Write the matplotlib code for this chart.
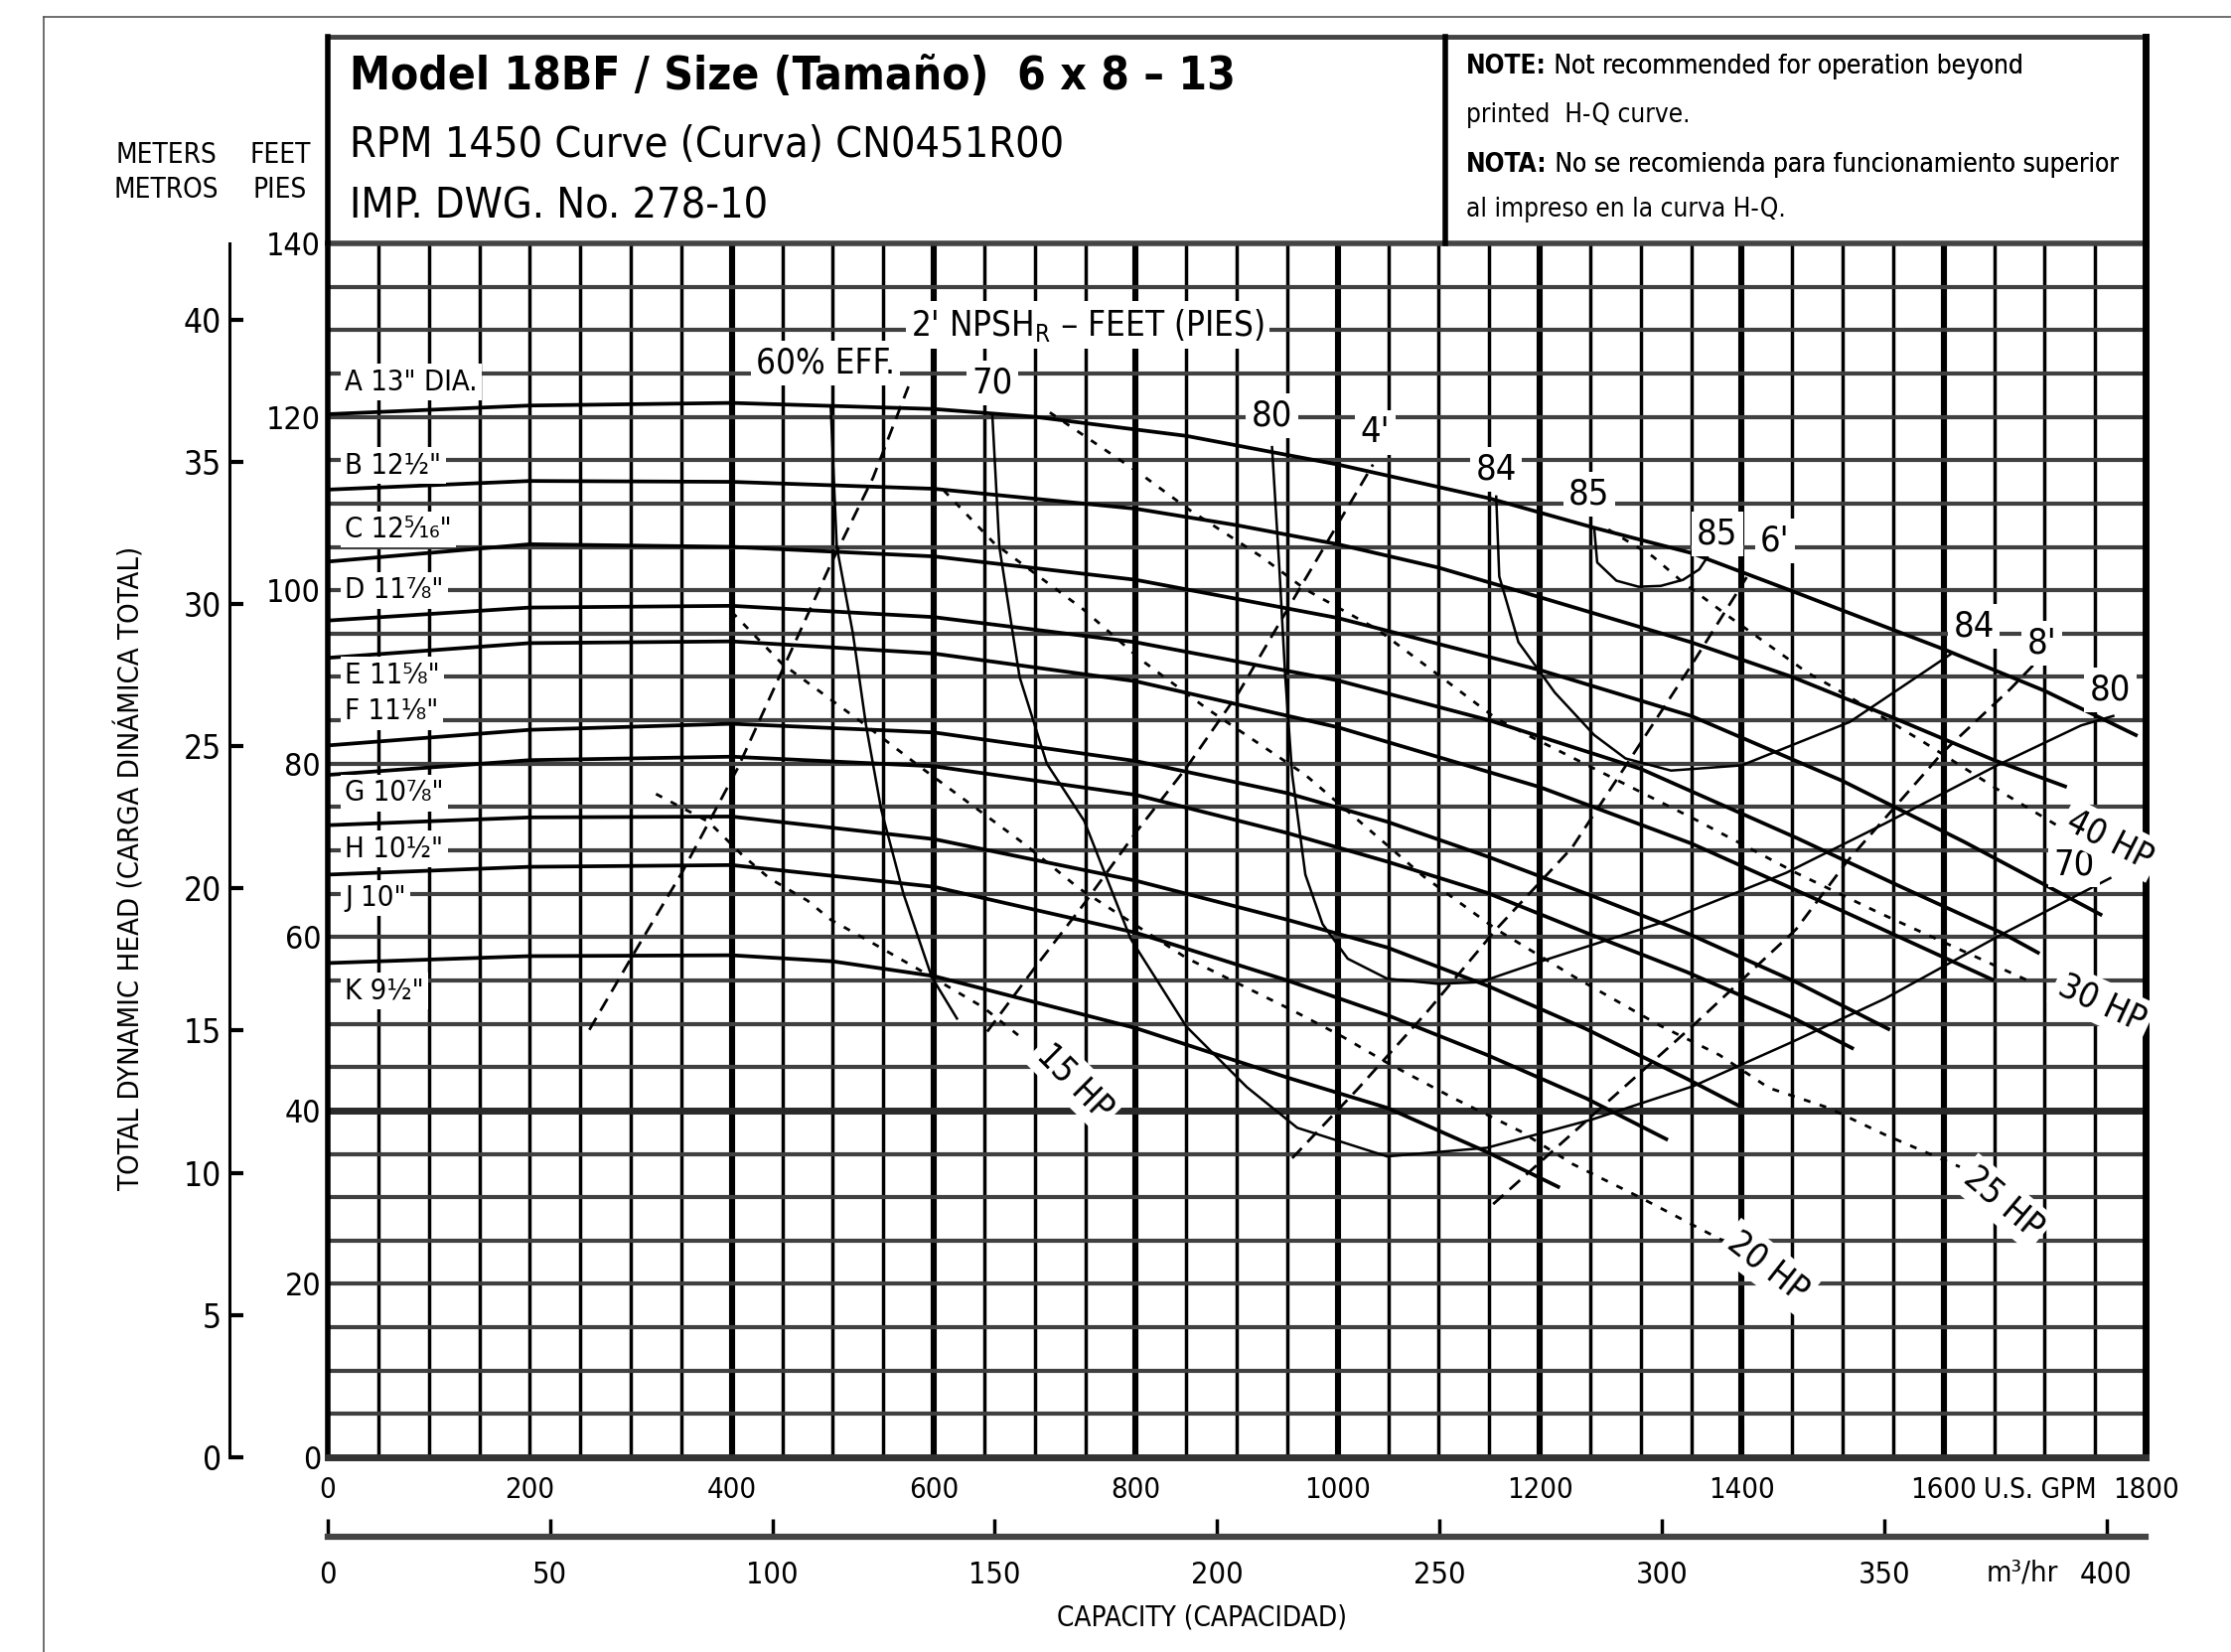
import matplotlib
matplotlib.use('Agg')
import matplotlib.pyplot as plt
from matplotlib.lines import Line2D
from matplotlib.transforms import blended_transform_factory
import numpy as np

plt.rcParams['font.family'] = ['DejaVu Sans']
plt.rcParams['font.stretch'] = 'condensed'
plt.rcParams['lines.scale_dashes'] = False

# ---- head-capacity curves (U.S. GPM, feet) ----
A_Q = [0, 200, 400, 600, 700, 850, 1000, 1150, 1254, 1350, 1450, 1600, 1700, 1792]
A_H = [120.3, 121.3, 121.6, 120.9, 120.0, 117.8, 114.5, 110.6, 107.2, 104.3, 99.9, 93.2, 88.4, 83.2]
B_Q = [0, 200, 400, 600, 800, 900, 1000, 1100, 1200, 1350, 1450, 1550, 1650, 1722]
B_H = [111.6, 112.6, 112.5, 111.7, 109.4, 107.5, 105.3, 102.6, 99.2, 94.0, 90.0, 85.3, 80.4, 77.3]
C_Q = [0, 200, 400, 600, 800, 1000, 1200, 1350, 1500, 1620, 1757]
C_H = [103.3, 105.3, 105.0, 103.9, 101.2, 96.8, 90.8, 85.5, 78.0, 71.0, 62.5]
D_Q = [0, 200, 400, 600, 800, 1000, 1150, 1300, 1455, 1554, 1659, 1695]
D_H = [96.5, 98.0, 98.2, 96.9, 94.0, 89.6, 85.0, 79.4, 71.4, 66.0, 60.4, 58.1]
E_Q = [0, 200, 400, 600, 800, 1000, 1200, 1350, 1500, 1650]
E_H = [92.2, 93.9, 94.1, 92.7, 89.5, 84.2, 77.3, 70.8, 63.0, 55.0]
F_Q = [0, 200, 400, 600, 800, 950, 1049, 1148, 1253, 1345, 1454, 1547]
F_H = [82.1, 83.9, 84.6, 83.6, 80.3, 76.6, 73.3, 69.3, 64.7, 60.5, 54.8, 49.3]
G_Q = [0, 200, 400, 600, 800, 950, 1049, 1148, 1246, 1345, 1454, 1511]
G_H = [78.7, 80.4, 80.8, 79.7, 76.4, 72.0, 68.7, 65.1, 60.5, 56.0, 50.5, 47.1]
H_Q = [0, 200, 400, 600, 800, 950, 1049, 1148, 1246, 1345, 1398]
H_H = [72.9, 73.8, 73.9, 71.3, 66.5, 62.0, 58.8, 54.4, 49.4, 43.7, 40.5]
J_Q = [0, 200, 400, 600, 800, 950, 1049, 1148, 1246, 1327]
J_H = [67.2, 68.1, 68.3, 65.8, 60.5, 55.0, 51.0, 46.4, 41.4, 36.6]
K_Q = [0, 200, 400, 500, 600, 800, 950, 1049, 1148, 1220]
K_H = [57.0, 57.8, 57.9, 57.2, 55.5, 49.5, 43.8, 40.3, 35.2, 31.1]

impeller_labels = ['A 13" DIA.', 'B 12½"', 'C 12⁵⁄₁₆"', 'D 11⅞"', 'E 11⅝"',
                   'F 11⅛"', 'G 10⅞"', 'H 10½"', 'J 10"', 'K 9½"']
impeller_label_ft = [124, 114.4, 107, 100, 90.2, 86, 76.6, 70.2, 64.5, 53.8]

# ---- efficiency contours ----
EFF60_Q = [498, 504, 520, 533, 548, 570, 598, 623]
EFF60_H = [121.2, 105, 95, 84.4, 74.7, 65, 55.4, 50.6]
EFF70_Q = [658, 665, 685, 712, 749, 795, 850, 910, 960, 1049, 1148, 1253, 1352, 1450, 1542, 1659, 1765]
EFF70_H = [120.3, 105, 90, 80, 73.4, 59.8, 49.7, 42.7, 38.0, 34.7, 35.7, 39, 42.8, 47.9, 52.9, 60.4, 66.8]
EFF80_Q = [935, 942, 948, 955, 968, 985, 1010, 1049, 1100, 1141, 1204, 1319, 1444, 1542, 1653, 1736, 1768]
EFF80_H = [116.5, 103.1, 90.2, 78.7, 67.2, 61.5, 57.5, 55.2, 54.6, 54.8, 57.3, 61.6, 67.4, 73.1, 79.8, 84.4, 85.5]
EFF84_Q = [1157, 1160, 1179, 1215, 1254, 1285, 1330, 1400, 1507, 1608]
EFF84_H = [110.8, 101.6, 94, 88.2, 83.3, 80.6, 79.2, 79.8, 84.8, 92.7]
EFF85_Q = [1254, 1257, 1276, 1298, 1320, 1342, 1358, 1366]
EFF85_H = [107.2, 103.2, 101.1, 100.4, 100.5, 101.2, 102.4, 103.8]

# ---- NPSHr lines ----
NPSH2_Q = [259, 301, 351, 406, 449, 498, 540, 575]
NPSH2_H = [49.3, 57.7, 67.5, 79.5, 90.5, 103, 113, 123.5]
NPSH4_Q = [653, 699, 750, 801, 850, 902, 968, 1035]
NPSH4_H = [49.1, 56.3, 64.0, 72.2, 79.5, 88.2, 101.3, 114.5]
NPSH6_Q = [955, 1020, 1088, 1157, 1232, 1290, 1350, 1405]
NPSH6_H = [34.5, 42.5, 51.3, 60.9, 70.3, 80.6, 91.3, 101.5]
NPSH8_Q = [1154, 1253, 1352, 1454, 1505, 1600, 1666, 1690]
NPSH8_H = [29.2, 39.5, 49.8, 60.9, 68.8, 81.4, 88.6, 91.5]

# ---- brake horsepower lines ----
HP15_Q = [325, 377, 410, 437, 475, 498, 538, 598, 649, 691]
HP15_H = [76.5, 73.3, 69.5, 66.8, 64.2, 62.0, 59.4, 55.4, 51.9, 48.0]
HP20_Q = [400, 450, 533, 588, 689, 744, 850, 956, 1005, 1049, 1115, 1181, 1233, 1299, 1368, 1390]
HP20_H = [97.5, 91.5, 84.4, 79.5, 70.8, 65.6, 57.6, 51.5, 48.5, 45.5, 41.4, 37.6, 33.8, 30.0, 25.8, 24.5]
HP25_Q = [610, 660, 748, 805, 871, 968, 1085, 1157, 1233, 1319, 1378, 1427, 1486, 1542, 1616]
HP25_H = [111.5, 105.4, 97.8, 92.0, 86.3, 78.7, 67.0, 60.9, 55.5, 49.8, 46.4, 42.6, 40.3, 37.2, 33.5]
HP30_Q = [715, 805, 854, 924, 968, 1039, 1100, 1157, 1188, 1355, 1454, 1536, 1687]
HP30_H = [120.5, 113.4, 109.2, 103.9, 100.1, 95.5, 90.2, 85.2, 83.3, 73.5, 67.4, 62.8, 54.8]
HP40_Q = [1268, 1312, 1343, 1387, 1465, 1494, 1580, 1662, 1712]
HP40_H = [107.0, 103.9, 100.8, 97.0, 90.5, 88.6, 82.5, 76.4, 72.9]

# in-plot annotations
eff_labels = [('70', 658, 123.9), ('80', 935, 120.1), ('84', 1157, 113.9), ('85', 1249, 111.1),
              ('85', 1376, 106.5), ('84', 1630, 95.8), ('80', 1765, 88.5), ('70', 1729, 68.3)]
npsh_labels = [("4'", 1037, 118.2), ("6'", 1433, 105.7), ("8'", 1697, 93.9)]
hp_labels = [('15 HP', 740, 43.3, -45), ('20 HP', 1426, 22.0, -38), ('25 HP', 1659, 29.4, -40),
             ('30 HP', 1757, 52.4, -25), ('40 HP', 1765, 71.2, -27)]

gpm_ticks = [0, 200, 400, 600, 800, 1000, 1200, 1400, 1600, 1800]
feet_ticks = [0, 20, 40, 60, 80, 100, 120, 140]
meter_ticks = [0, 5, 10, 15, 20, 25, 30, 35, 40]
m3h_ticks = [0, 50, 100, 150, 200, 250, 300, 350, 400]

W, H = 2246, 1663
fig = plt.figure(figsize=(W / 100, H / 100), dpi=100)
fig.patch.set_facecolor('white')


def fx(x):
    return x / W


def fy(y):
    return 1 - y / H


def fig_line(x0, y0, x1, y1, **kw):
    fig.add_artist(Line2D([fx(x0), fx(x1)], [fy(y0), fy(y1)], transform=fig.transFigure, **kw))


L, R, T, B = 330, 2160, 245, 1467
ax = fig.add_axes([fx(L), fy(B), (R - L) / W, (B - T) / H])
ax.set_xlim(0, 1800)
ax.set_ylim(0, 140)

# grid
for q in np.arange(50, 1800, 50):
    thick = q % 200 == 0 and q >= 400
    ax.axvline(q, color='black', lw=4.4 if thick else 2.5, zorder=1)
for h in np.arange(5, 140, 5):
    ax.axhline(h, color='#2a2a2a' if h == 40 else '#404040', lw=5 if h == 40 else 3.0, zorder=1)

ax.spines['left'].set_linewidth(4)
ax.spines['right'].set_linewidth(5)
ax.spines['top'].set_linewidth(4)
ax.spines['top'].set_color('#444444')
ax.spines['bottom'].set_linewidth(5)
ax.spines['bottom'].set_color('#333333')

hq_curves = [(A_Q, A_H), (B_Q, B_H), (C_Q, C_H), (D_Q, D_H), (E_Q, E_H),
             (F_Q, F_H), (G_Q, G_H), (H_Q, H_H), (J_Q, J_H), (K_Q, K_H)]
for q, h in hq_curves:
    ax.plot(q, h, color='black', lw=2.7, zorder=3, solid_capstyle='butt')

for q, h in [(EFF60_Q, EFF60_H), (EFF70_Q, EFF70_H), (EFF80_Q, EFF80_H),
             (EFF84_Q, EFF84_H), (EFF85_Q, EFF85_H)]:
    ax.plot(q, h, color='black', lw=1.8, zorder=3)

for q, h in [(NPSH2_Q, NPSH2_H), (NPSH4_Q, NPSH4_H), (NPSH6_Q, NPSH6_H), (NPSH8_Q, NPSH8_H)]:
    ax.plot(q, h, color='black', lw=2.0, dashes=(10, 6), zorder=3)

for q, h in [(HP15_Q, HP15_H), (HP20_Q, HP20_H), (HP25_Q, HP25_H), (HP30_Q, HP30_H), (HP40_Q, HP40_H)]:
    ax.plot(q, h, color='black', lw=2.0, dashes=(5, 7), zorder=3)

box = dict(boxstyle='square,pad=0.15', fc='white', ec='none')
for lab, ft in zip(impeller_labels, impeller_label_ft):
    ax.text(17, ft, lab, fontsize=21, ha='left', va='center', bbox=box, zorder=5)

ax.text(493, 126.2, '60% EFF.', fontsize=25, ha='center', va='center', bbox=box, zorder=5)
ax.text(752, 130.6, "2' NPSH$_{\\mathregular{R}}$ – FEET (PIES)", fontsize=25, ha='center',
        va='center', bbox=box, zorder=5)
for lab, q, h in eff_labels:
    ax.text(q, h, lab, fontsize=26, ha='center', va='center', bbox=box, zorder=5)
for lab, q, h in npsh_labels:
    ax.text(q, h, lab, fontsize=26, ha='center', va='center', bbox=box, zorder=5)
for lab, q, h, rot in hp_labels:
    ax.text(q, h, lab, fontsize=25, ha='center', va='center', rotation=rot,
            rotation_mode='anchor', bbox=box, zorder=5)

ax.set_xticks(gpm_ticks)
ax.set_yticks(feet_ticks)
ax.tick_params(axis='both', length=0)
ax.tick_params(axis='x', pad=14, labelsize=21)
ax.tick_params(axis='y', pad=5, labelsize=23)
gpm_tf = blended_transform_factory(ax.transData, fig.transFigure)
fig.text(1696, fy(1500), 'U.S. GPM', transform=gpm_tf, fontsize=20, ha='center', va='center')

# meters scale
axm = fig.add_axes([fx(231), fy(B), 0.0005, (B - T) / H])
axm.set_ylim(0, 140 / 3.28084)
axm.set_xticks([])
for s in ['right', 'top', 'bottom']:
    axm.spines[s].set_visible(False)
axm.spines['left'].set_linewidth(2.2)
axm.set_yticks(meter_ticks)
axm.tick_params(axis='y', direction='in', length=10, width=3, labelsize=24, pad=6)

# cubic metres per hour scale
axc = fig.add_axes([fx(L), fy(1547), (R - L) / W, 0.0005])
axc.set_xlim(0, 1800 / 4.40287)
axc.set_yticks([])
for s in ['left', 'right', 'top']:
    axc.spines[s].set_visible(False)
axc.spines['bottom'].set_linewidth(4.5)
axc.spines['bottom'].set_color('#444444')
axc.set_xticks(m3h_ticks)
axc.tick_params(axis='x', direction='in', length=13, width=2.5, labelsize=22, pad=17)
m3_tf = blended_transform_factory(axc.transData, fig.transFigure)
fig.text(381, fy(1583), 'm³/hr', transform=m3_tf, fontsize=21, ha='center', va='center')

fig.text(fx(1210), fy(1629), 'CAPACITY (CAPACIDAD)', fontsize=20, ha='center', va='center')
fig.text(fx(132), fy(874), 'TOTAL DYNAMIC HEAD (CARGA DINÁMICA TOTAL)', fontsize=21,
         rotation=90, ha='center', va='center')

fig.text(fx(167), fy(156), 'METERS', fontsize=20, ha='center', va='center')
fig.text(fx(167), fy(191), 'METROS', fontsize=20, ha='center', va='center')
fig.text(fx(282), fy(156), 'FEET', fontsize=20, ha='center', va='center')
fig.text(fx(282), fy(191), 'PIES', fontsize=20, ha='center', va='center')

# page border and title block
fig_line(44, 17, W, 17, color='#555555', lw=1.2)
fig_line(44, 17, 44, H, color='#555555', lw=1.2)
fig_line(L, 37, R, 37, color='#444444', lw=3.5)
fig_line(L, 37, L, T, color='black', lw=4)
fig_line(R, 37, R, T, color='black', lw=5)
fig_line(1455, 37, 1455, T, color='black', lw=4)

fig.text(fx(352), fy(90), 'Model 18BF / Size (Tamaño)  6 x 8 – 13', fontsize=33,
         fontweight='bold', ha='left', va='baseline')
fig.text(fx(352), fy(158), 'RPM 1450 Curve (Curva) CN0451R00', fontsize=31, ha='left', va='baseline')
fig.text(fx(352), fy(219), 'IMP. DWG. No. 278-10', fontsize=31, ha='left', va='baseline')

note_lines = [('NOTE:', ' Not recommended for operation beyond', 74),
              ('', 'printed  H-Q curve.', 123),
              ('NOTA:', ' No se recomienda para funcionamiento superior', 173),
              ('', 'al impreso en la curva H-Q.', 218)]
for bold, rest, y in note_lines:
    if bold:
        t = fig.text(fx(1476), fy(y), bold, fontsize=18.8, fontweight='bold', ha='left', va='baseline')
        ann = plt.annotate(rest, xy=(1, 0), xycoords=t, fontsize=18.8, ha='left', va='bottom',
                           annotation_clip=False)
        fig.add_artist(ann)
    else:
        fig.text(fx(1476), fy(y), rest, fontsize=18.8, ha='left', va='baseline')

fig.savefig('out.png', dpi=100, facecolor='white')
